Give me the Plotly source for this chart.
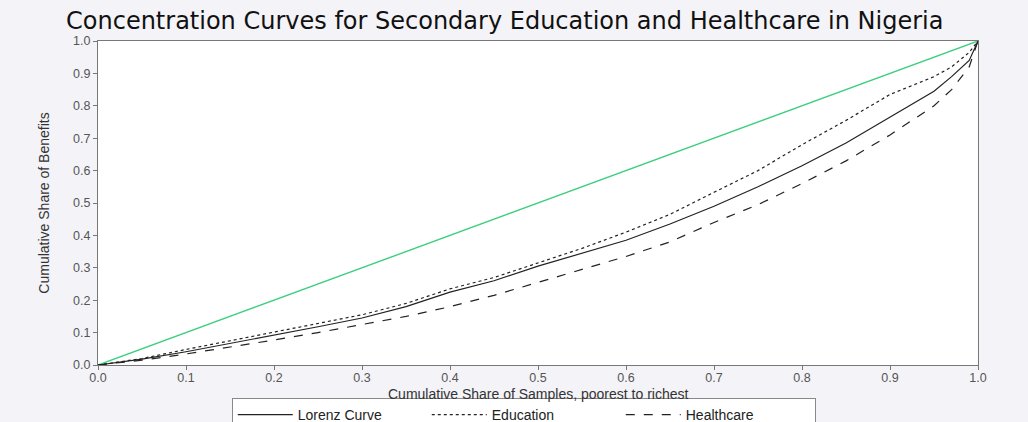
import plotly.graph_objects as go

# Cumulative share of samples (poorest to richest)
share_samples = [0.0, 0.05, 0.1, 0.15, 0.2, 0.25, 0.3, 0.35, 0.4, 0.45, 0.5,
                 0.55, 0.6, 0.65, 0.7, 0.75, 0.8, 0.85, 0.9, 0.95, 0.97, 0.99, 1.0]

# Cumulative share of benefits for each curve
lorenz = [0.0, 0.018, 0.041, 0.066, 0.093, 0.118, 0.145, 0.18, 0.225, 0.26, 0.305,
          0.345, 0.385, 0.435, 0.49, 0.55, 0.615, 0.685, 0.765, 0.845, 0.89, 0.94, 1.0]
education = [0.0, 0.02, 0.048, 0.075, 0.103, 0.128, 0.155, 0.19, 0.235, 0.27, 0.315,
             0.36, 0.41, 0.465, 0.533, 0.6, 0.68, 0.755, 0.835, 0.89, 0.92, 0.965, 1.0]
healthcare = [0.0, 0.015, 0.034, 0.055, 0.077, 0.1, 0.125, 0.15, 0.18, 0.215, 0.255,
              0.295, 0.335, 0.38, 0.44, 0.495, 0.56, 0.63, 0.71, 0.8, 0.85, 0.92, 1.0]

# Line of equality
equality_x = [0.0, 1.0]
equality_y = [0.0, 1.0]

x_ticks = [0.0, 0.1, 0.2, 0.3, 0.4, 0.5, 0.6, 0.7, 0.8, 0.9, 1.0]
y_ticks = [0.0, 0.1, 0.2, 0.3, 0.4, 0.5, 0.6, 0.7, 0.8, 0.9, 1.0]

fig = go.Figure()
fig.add_trace(go.Scatter(x=equality_x, y=equality_y, mode="lines",
                         line=dict(color="#3ccf7e", width=1.4), showlegend=False))
fig.add_trace(go.Scatter(x=share_samples, y=lorenz, mode="lines", name="Lorenz Curve",
                         line=dict(color="#222222", width=1.2)))
fig.add_trace(go.Scatter(x=share_samples, y=education, mode="lines", name="Education",
                         line=dict(color="#222222", width=1.2, dash="dot")))
fig.add_trace(go.Scatter(x=share_samples, y=healthcare, mode="lines", name="Healthcare",
                         line=dict(color="#222222", width=1.2, dash="dash")))

axis_common = dict(
    range=[0, 1], showgrid=False, zeroline=False, showline=True, mirror=True,
    linecolor="#777777", linewidth=1, ticks="outside", ticklen=4, tickcolor="#777777",
    tickformat=".1f", tickfont=dict(family="Liberation Sans, Arial", size=12.5, color="#555555"),
)

fig.update_layout(
    width=1028, height=422,
    margin=dict(l=98, r=50, t=41, b=57, autoexpand=False),
    paper_bgcolor="#f4f4f8", plot_bgcolor="white",
    title=dict(text="Concentration Curves for Secondary Education and Healthcare in Nigeria",
               x=0.491, xanchor="center", y=0.952, yanchor="middle",
               font=dict(family="DejaVu Sans", size=24, color="#111111")),
    xaxis=dict(**axis_common, tickvals=x_ticks, ticklabelstandoff=-3),
    yaxis=dict(**axis_common, tickvals=y_ticks,
               title=dict(text="Cumulative Share of Benefits", standoff=20,
                          font=dict(family="Liberation Sans, Arial", size=14, color="#333333"))),
    legend=dict(orientation="h", x=0.152, xanchor="left", y=-0.102, yanchor="top",
                bgcolor="white", bordercolor="#888888", borderwidth=1,
                font=dict(family="Liberation Sans, Arial", size=14, color="#222222"),
                itemwidth=55, entrywidth=124, entrywidthmode="pixels", tracegroupgap=0),
    annotations=[dict(text="Cumulative Share of Samples, poorest to richest",
                      xref="paper", yref="paper", x=0.5, y=-0.0895,
                      xanchor="center", yanchor="middle", showarrow=False,
                      font=dict(family="Liberation Sans, Arial", size=14, color="#333333"))],
)

fig.write_html("out.html")
